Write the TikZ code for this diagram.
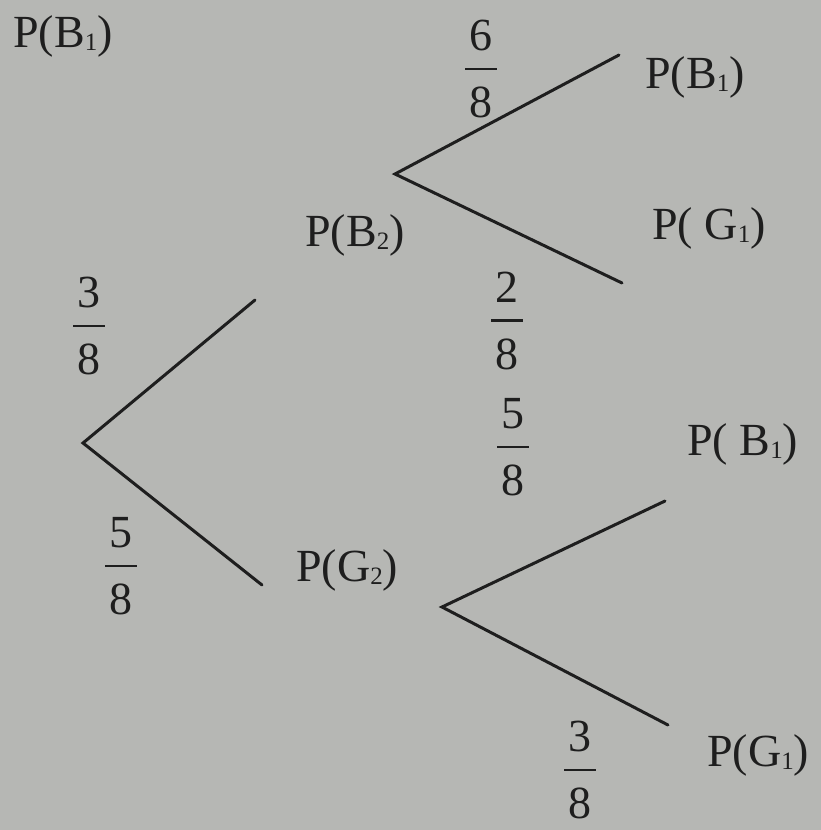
\documentclass[tikz,border=0pt]{standalone}
\usepackage{fontspec}
\setmainfont{Liberation Serif}
\definecolor{paper}{HTML}{B6B7B4}
\definecolor{ink}{HTML}{1E1E1E}
\newcommand\fr[2]{\shortstack{#1\\[14pt]\rule{32pt}{2.5pt}\\[14pt]#2}}
\newcommand\sbs[1]{\raisebox{-3.5pt}{\fontsize{25}{25}\selectfont #1}}
\tikzset{
  lbl/.style={anchor=base west, inner sep=0pt, text=ink, font=\fontsize{46}{50}\selectfont},
  frc/.style={inner sep=0pt, text=ink, font=\fontsize{46}{50}\selectfont},
  branch/.style={draw=ink, line width=3pt, line cap=round}
}
\begin{document}
\begin{tikzpicture}[x=1pt,y=-1pt]
\fill[paper] (0,0) rectangle (821,830);
\useasboundingbox (0,0) rectangle (821,830);
% labels
\node[lbl] (lb0) at (13,47) {P(B\sbs{1})};
\node[lbl] (lb1) at (645,88) {P(B\sbs{1})};
\node[lbl] (lg1) at (652,239) {P( G\sbs{1})};
\node[lbl] (lb2) at (305,246) {P(B\sbs{2})};
\node[lbl] (lb3) at (687,455) {P( B\sbs{1})};
\node[lbl] (lg2) at (296,581) {P(G\sbs{2})};
\node[lbl] (lg3) at (707,766) {P(G\sbs{1})};
% fractions
\node[frc] (f1) at (481,69) {\fr{6}{8}};
\node[frc] (f2) at (89,326) {\fr{3}{8}};
\node[frc] (f3) at (507,321) {\fr{2}{8}};
\node[frc] (f4) at (513,447) {\fr{5}{8}};
\node[frc] (f5) at (121,566) {\fr{5}{8}};
\node[frc] (f6) at (580,770) {\fr{3}{8}};
% branch points
\coordinate (r0) at (83,443);
\coordinate (a0) at (255,300);
\coordinate (b0) at (262,585);
\coordinate (r1) at (395,174);
\coordinate (a1) at (619,55);
\coordinate (b1) at (622,283);
\coordinate (r2) at (442,607);
\coordinate (a2) at (665,501);
\coordinate (b2) at (668,725);
\draw[branch] (a0) -- (r0) -- (b0);
\draw[branch] (a1) -- (r1) -- (b1);
\draw[branch] (a2) -- (r2) -- (b2);
\end{tikzpicture}
\end{document}
